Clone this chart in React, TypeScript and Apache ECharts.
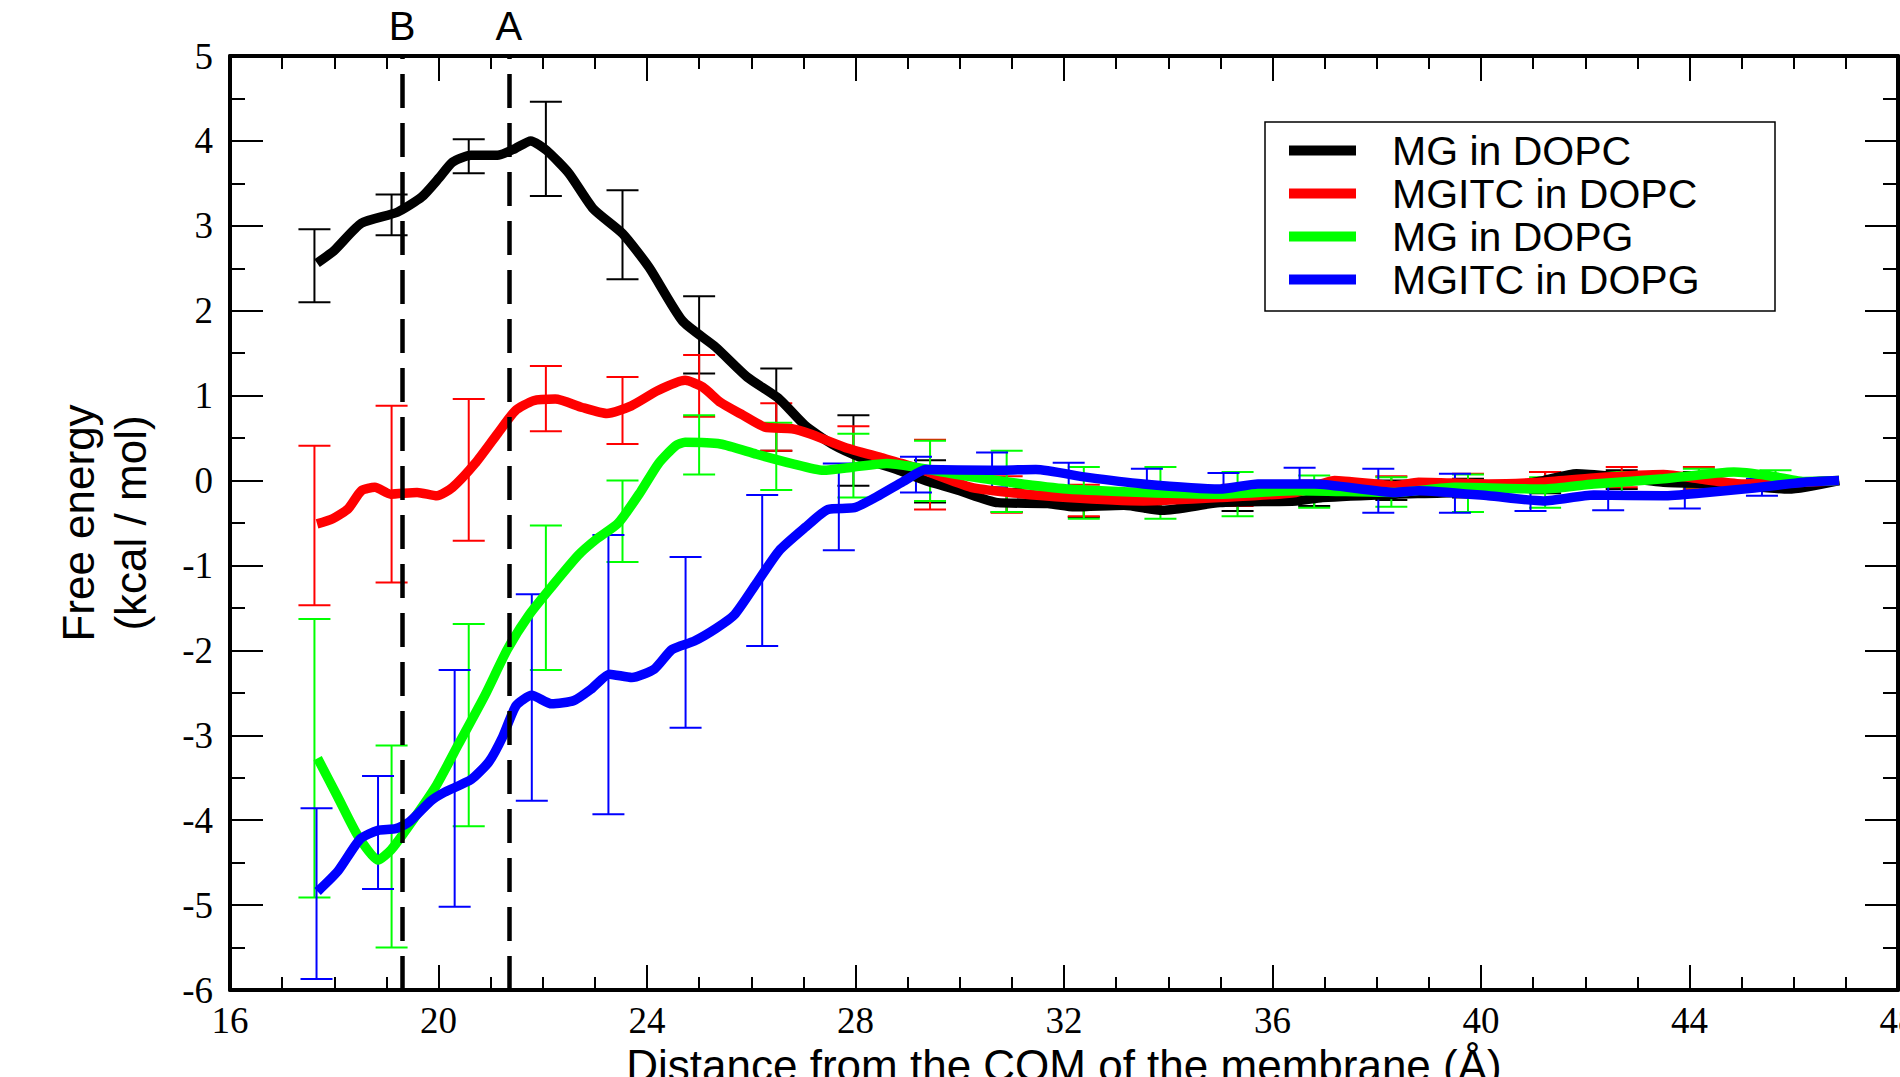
import React, { useEffect, useRef } from "react";
import * as echarts from "echarts";

// ---- data ----
const xTicks = { min: 16, max: 48, interval: 4 };
const yTicks = { min: -6, max: 5, interval: 1 };

const seriesNames = ["MG in DOPC", "MGITC in DOPC", "MG in DOPG", "MGITC in DOPG"];
const seriesColors = ["#000000", "#ff0000", "#00ff00", "#0000ff"];

const blackX = [17.67, 18.0, 18.52, 19.21, 19.68, 20.02, 20.27, 20.62, 21.13, 21.47, 21.77, 22.07, 22.5, 22.97, 23.53, 24.04, 24.68, 25.32, 25.92, 26.52, 27.03, 27.55, 28.15, 28.83, 29.34, 30.0, 30.73, 31.69, 32.2, 33.15, 33.89, 34.99, 36.45, 36.96, 38.36, 39.5, 40.5, 41.2, 41.83, 42.5, 43.5, 44.7, 45.9, 46.87];
const blackY = [2.56, 2.71, 3.03, 3.16, 3.34, 3.57, 3.75, 3.83, 3.83, 3.91, 4.0, 3.89, 3.62, 3.2, 2.91, 2.51, 1.88, 1.57, 1.22, 0.97, 0.65, 0.43, 0.26, 0.12, 0.0, -0.12, -0.26, -0.27, -0.31, -0.29, -0.35, -0.26, -0.24, -0.2, -0.16, -0.14, -0.08, 0.0, 0.08, 0.05, -0.02, -0.04, -0.1, 0.0];

const redX = [17.67, 17.97, 18.27, 18.52, 18.78, 19.08, 19.59, 19.97, 20.27, 20.7, 21.13, 21.47, 21.82, 22.24, 22.76, 23.23, 23.7, 24.21, 24.73, 25.07, 25.41, 25.84, 26.26, 26.78, 27.12, 27.8, 28.49, 29.17, 30.22, 30.95, 32.06, 33.52, 34.99, 36.45, 37.19, 38.36, 38.8, 40.14, 41.16, 42.16, 43.5, 44.18, 45.0, 46.2, 46.87];
const redY = [-0.51, -0.45, -0.33, -0.12, -0.08, -0.16, -0.14, -0.18, -0.08, 0.2, 0.55, 0.82, 0.94, 0.96, 0.86, 0.79, 0.88, 1.06, 1.18, 1.1, 0.92, 0.77, 0.63, 0.61, 0.55, 0.39, 0.27, 0.15, -0.08, -0.14, -0.2, -0.24, -0.2, -0.14, 0.0, -0.06, -0.02, -0.04, -0.02, 0.03, 0.07, 0.02, -0.04, -0.02, 0.0];

const greenX = [17.68, 18.07, 18.45, 18.84, 19.09, 19.44, 19.95, 20.38, 20.89, 21.32, 21.74, 22.17, 22.68, 23.03, 23.45, 23.88, 24.22, 24.55, 24.73, 25.41, 26.1, 26.78, 27.38, 27.97, 28.6, 29.12, 29.86, 30.95, 32.06, 33.52, 34.99, 36.45, 38.36, 39.5, 41.2, 42.16, 43.5, 44.85, 45.5, 46.2, 46.87];
const greenY = [-3.27, -3.73, -4.18, -4.47, -4.35, -4.06, -3.6, -3.11, -2.53, -1.99, -1.58, -1.25, -0.88, -0.69, -0.5, -0.13, 0.2, 0.41, 0.45, 0.43, 0.31, 0.2, 0.12, 0.16, 0.2, 0.16, 0.08, -0.02, -0.1, -0.14, -0.16, -0.12, -0.14, -0.08, -0.1, -0.04, 0.02, 0.1, 0.06, -0.01, 0.0];

const blueX = [17.68, 18.07, 18.5, 18.84, 19.18, 19.44, 19.86, 20.12, 20.63, 20.97, 21.23, 21.49, 21.79, 22.17, 22.6, 22.94, 23.28, 23.71, 24.14, 24.48, 24.91, 25.33, 25.68, 26.1, 26.53, 27.04, 27.47, 27.98, 28.41, 28.92, 29.35, 30.58, 31.46, 32.42, 33.52, 34.99, 35.72, 36.81, 38.36, 38.8, 40.14, 41.2, 42.16, 43.5, 44.18, 45.19, 46.2, 46.87];
const blueY = [-4.84, -4.6, -4.22, -4.12, -4.1, -4.02, -3.77, -3.67, -3.52, -3.31, -3.02, -2.65, -2.53, -2.63, -2.59, -2.45, -2.28, -2.32, -2.22, -1.99, -1.89, -1.74, -1.58, -1.21, -0.83, -0.55, -0.34, -0.32, -0.19, -0.01, 0.13, 0.12, 0.13, 0.04, -0.04, -0.1, -0.04, -0.04, -0.14, -0.12, -0.18, -0.24, -0.17, -0.18, -0.15, -0.09, -0.02, 0.0];

// error bar positions and bounds
const errX = [17.62, 19.1, 20.58, 22.06, 23.53, 25.0, 26.48, 27.96, 29.43, 30.9, 32.38, 33.85, 35.33, 36.8, 38.28, 39.75, 41.23, 42.7, 44.18, 45.65];
const blackErrLo = [2.1, 2.89, 3.62, 3.35, 2.37, 1.26, 0.35, -0.06, -0.26, -0.37, -0.43, -0.37, -0.36, -0.3, -0.23, -0.2, -0.15, -0.1, -0.12, -0.1];
const blackErrHi = [2.96, 3.37, 4.02, 4.46, 3.42, 2.17, 1.32, 0.77, 0.24, -0.1, -0.15, -0.2, -0.15, -0.1, 0.0, 0.02, 0.1, 0.12, 0.1, 0.05];
const redErrLo = [-1.47, -1.2, -0.71, 0.58, 0.43, 0.75, 0.35, 0.15, -0.34, -0.38, -0.42, -0.35, -0.3, -0.2, -0.15, -0.12, -0.1, -0.08, -0.1, -0.1];
const redErrHi = [0.41, 0.88, 0.96, 1.35, 1.22, 1.48, 0.91, 0.64, 0.48, 0.05, -0.05, -0.1, -0.05, 0.0, 0.05, 0.08, 0.1, 0.16, 0.16, 0.05];
const greenErrLo = [-4.91, -5.5, -4.07, -2.23, -0.96, 0.07, -0.11, -0.2, -0.24, -0.37, -0.45, -0.45, -0.42, -0.32, -0.31, -0.37, -0.32, -0.2, -0.08, -0.05];
const greenErrHi = [-1.63, -3.12, -1.69, -0.53, 0.0, 0.77, 0.68, 0.55, 0.47, 0.35, 0.16, 0.16, 0.1, 0.06, 0.04, 0.07, 0.04, 0.1, 0.14, 0.12];
const blueErrX = [17.66, 18.84, 20.31, 21.79, 23.26, 24.74, 26.21, 27.68, 29.16, 30.62, 32.09, 33.59, 35.06, 36.52, 38.03, 39.5, 40.95, 42.44, 43.91, 45.39];
const blueErrLo = [-5.87, -4.81, -5.02, -3.77, -3.93, -2.91, -1.95, -0.82, -0.14, -0.08, -0.08, -0.26, -0.27, -0.22, -0.38, -0.38, -0.36, -0.35, -0.33, -0.18];
const blueErrHi = [-3.86, -3.48, -2.23, -1.34, -0.64, -0.9, -0.17, 0.2, 0.28, 0.33, 0.21, 0.14, 0.09, 0.15, 0.14, 0.08, 0.0, 0.03, 0.04, 0.02];

const markerNames = ["B", "A"];
const markerX = [19.3, 21.35];

const xAxisTitle = "Distance from the COM of the membrane (Å)";
const yAxisTitle = "Free energy\n(kcal / mol)";

const SANS = "'Liberation Sans', Arial, sans-serif";
const SERIF = "'Liberation Serif', 'Times New Roman', serif";

function lineSeries(name: string, color: string, xs: number[], ys: number[]) {
  return {
    type: "line",
    name,
    data: xs.map((x, i) => [x, ys[i]]),
    showSymbol: false,
    symbol: "none",
    smooth: 0.2,
    lineStyle: { color, width: 9.5 },
    itemStyle: { color },
  };
}

function errSeries(name: string, color: string, xs: number[], lo: number[], hi: number[]) {
  return {
    type: "custom",
    name: name + " error",
    data: xs.map((x, i) => [x, lo[i], hi[i]]),
    encode: { x: 0, y: [1, 2] },
    renderItem: (_params: any, api: any) => {
      const x = api.value(0);
      const top = api.coord([x, api.value(2)]);
      const bot = api.coord([x, api.value(1)]);
      const hw = 16;
      const style = { stroke: color, lineWidth: 2 };
      return {
        type: "group",
        children: [
          { type: "line", shape: { x1: top[0], y1: top[1], x2: bot[0], y2: bot[1] }, style },
          { type: "line", shape: { x1: top[0] - hw, y1: top[1], x2: top[0] + hw, y2: top[1] }, style },
          { type: "line", shape: { x1: bot[0] - hw, y1: bot[1], x2: bot[0] + hw, y2: bot[1] }, style },
        ],
      };
    },
  };
}

export default function App() {
  const ref = useRef<HTMLDivElement>(null);
  useEffect(() => {
    if (!ref.current) return;
    const chart = echarts.init(ref.current, undefined, { renderer: "svg" });
    const axisLine = { show: true, onZero: false, lineStyle: { color: "#000", width: 4 } };
    const xCommon = {
      type: "value",
      min: xTicks.min,
      max: xTicks.max,
      interval: xTicks.interval,
      splitLine: { show: false },
      axisLine,
      axisTick: { show: true, inside: true, length: 25, lineStyle: { color: "#000", width: 2 } },
      minorTick: { show: true, splitNumber: 4, length: 13, lineStyle: { color: "#000", width: 2 } },
    };
    const yCommon = {
      type: "value",
      min: yTicks.min,
      max: yTicks.max,
      interval: yTicks.interval,
      splitLine: { show: false },
      axisLine,
      axisTick: { show: true, inside: true, length: 33, lineStyle: { color: "#000", width: 2 } },
      minorTick: { show: true, splitNumber: 2, length: 15, lineStyle: { color: "#000", width: 2 } },
    };
    const option: any = {
      animation: false,
      backgroundColor: "#fff",
      grid: { left: 230, right: 2, top: 56, bottom: 87, containLabel: false, outerBoundsMode: "none" },
      legend: {
        data: seriesNames,
        orient: "vertical",
        left: 1265,
        top: 122,
        icon: "rect",
        itemWidth: 67,
        itemHeight: 10,
        itemGap: 0,
        padding: [7, 16, 10, 24],
        borderColor: "#000",
        borderWidth: 1.5,
        backgroundColor: "#fff",
        selectedMode: false,
        textStyle: {
          fontFamily: SANS,
          fontSize: 41,
          color: "#000",
          lineHeight: 43,
          width: 367,
          padding: [0, 0, 0, 31],
        },
      },
      xAxis: [
        {
          ...xCommon,
          position: "bottom",
          name: xAxisTitle,
          nameLocation: "middle",
          nameGap: 52,
          nameTextStyle: { fontFamily: SANS, fontSize: 44, color: "#000" },
          axisLabel: { show: true, fontFamily: SERIF, fontSize: 37, color: "#000", margin: 12 },
        },
        { ...xCommon, position: "top", axisLabel: { show: false } },
      ],
      yAxis: [
        {
          ...yCommon,
          position: "left",
          name: yAxisTitle,
          nameLocation: "middle",
          nameRotate: 90,
          nameGap: 74,
          nameTextStyle: { fontFamily: SANS, fontSize: 44, color: "#000", lineHeight: 52, align: "center" },
          axisLabel: { show: true, fontFamily: SERIF, fontSize: 37, color: "#000", margin: 17 },
        },
        { ...yCommon, position: "right", axisLabel: { show: false } },
      ],
      series: [
        errSeries(seriesNames[0], seriesColors[0], errX, blackErrLo, blackErrHi),
        lineSeries(seriesNames[0], seriesColors[0], blackX, blackY),
        errSeries(seriesNames[1], seriesColors[1], errX, redErrLo, redErrHi),
        lineSeries(seriesNames[1], seriesColors[1], redX, redY),
        errSeries(seriesNames[2], seriesColors[2], errX, greenErrLo, greenErrHi),
        lineSeries(seriesNames[2], seriesColors[2], greenX, greenY),
        errSeries(seriesNames[3], seriesColors[3], blueErrX, blueErrLo, blueErrHi),
        lineSeries(seriesNames[3], seriesColors[3], blueX, blueY),
        {
          type: "line",
          name: "markers",
          data: [],
          markLine: {
            silent: true,
            symbol: ["none", "none"],
            lineStyle: { color: "#000", width: 4.5, type: [34, 15] },
            label: {
              show: true,
              position: "end",
              formatter: (p: any) => p.name,
              fontFamily: SANS,
              fontSize: 40,
              color: "#000",
              distance: 10,
            },
            data: markerX.map((x, i) => ({ xAxis: x, name: markerNames[i] })),
          },
        },
      ],
    };
    chart.setOption(option);
    return () => chart.dispose();
  }, []);
  return (
    <div
      ref={ref}
      style={{ position: "fixed", left: 0, top: 0, width: 1900, height: 1077, background: "#fff" }}
    />
  );
}
